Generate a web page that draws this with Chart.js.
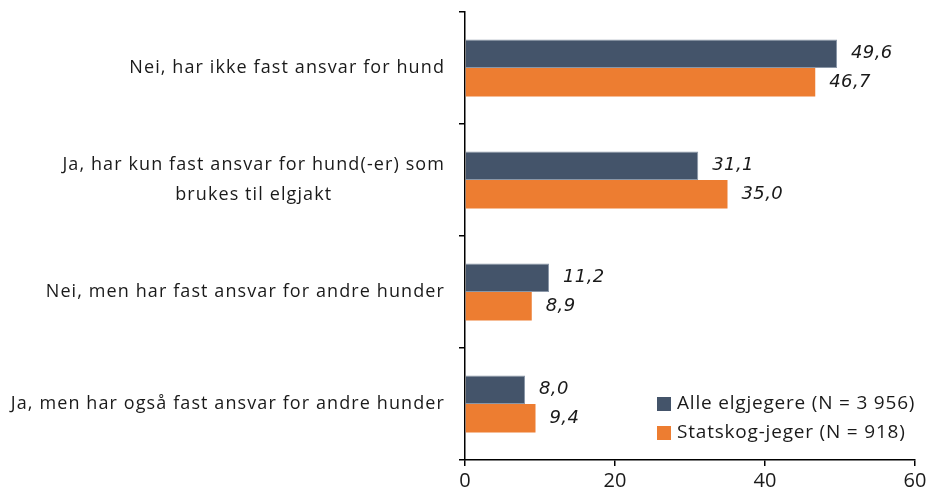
<!DOCTYPE html>
<html>
<head>
<meta charset="utf-8">
<script src="https://cdn.jsdelivr.net/npm/chart.js@4"></script>
<style>
  body { margin: 0; background: #fff; }
  #wrap { width: 932px; height: 499px; }
</style>
</head>
<body>
<div id="wrap"><canvas id="chart"></canvas></div>
<script>
// Data
const categories = [
  ["Nei, har ikke fast ansvar for hund"],
  ["Ja, har kun fast ansvar for hund(-er) som", "brukes til elgjakt"],
  ["Nei, men har fast ansvar for andre hunder"],
  ["Ja, men har også fast ansvar for andre hunder"],
];
const alleValues = [49.6, 31.1, 11.2, 8.0];
const statskogValues = [46.7, 35.0, 8.9, 9.4];
const seriesNames = ["Alle elgjegere (N = 3 956)", "Statskog-jeger (N = 918)"];
const xTicks = [0, 20, 40, 60];

const labelFont = "18px 'Open Sans', sans-serif";

// draws the category labels (right-aligned block, lines centred), value labels and legend
const extras = {
  id: "extras",
  afterDraw(chart) {
    const ctx = chart.ctx;
    const y = chart.scales.y;
    const area = chart.chartArea;
    ctx.save();
    ctx.fillStyle = "#1a1a1a";
    ctx.font = labelFont;
    ctx.letterSpacing = "1.1px";
    ctx.textBaseline = "middle";
    categories.forEach((lines, i) => {
      const cy = y.getPixelForValue(i);
      const widths = lines.map((l) => ctx.measureText(l).width);
      const maxW = Math.max(...widths);
      const cx = area.left - 20 - maxW / 2;
      const lh = 30;
      lines.forEach((l, j) => {
        ctx.textAlign = "center";
        ctx.fillText(l, cx, cy + (j - (lines.length - 1) / 2) * lh);
      });
    });

    ctx.letterSpacing = "0.4px";
    ctx.font = "italic 18px 'DejaVu Sans', sans-serif";
    ctx.textAlign = "left";
    chart.data.datasets.forEach((ds, di) => {
      const meta = chart.getDatasetMeta(di);
      meta.data.forEach((bar, i) => {
        const txt = ds.data[i].toFixed(1).replace(".", ",");
        ctx.fillText(txt, bar.x + 14, bar.y);
      });
    });

    ctx.letterSpacing = "0.8px";
    ctx.font = "19px 'Open Sans', sans-serif";
    chart.data.datasets.forEach((ds, di) => {
      const ly = 404 + di * 29;
      ctx.fillStyle = ds.backgroundColor;
      ctx.fillRect(657, ly - 7, 14, 14);
      ctx.fillStyle = "#1a1a1a";
      ctx.fillText(ds.label, 677, ly);
    });
    ctx.restore();
  },
};

new Chart(document.getElementById("chart"), {
  type: "bar",
  data: {
    labels: categories.map((c) => c.join(" ")),
    datasets: [
      {
        label: seriesNames[0],
        data: alleValues,
        backgroundColor: "#44546A",
        borderColor: "#8A97A8",
        borderWidth: 1,
        categoryPercentage: 0.51,
        barPercentage: 1,
      },
      {
        label: seriesNames[1],
        data: statskogValues,
        backgroundColor: "#ED7D31",
        borderWidth: 0,
        categoryPercentage: 0.51,
        barPercentage: 1,
      },
    ],
  },
  options: {
    indexAxis: "y",
    responsive: true,
    maintainAspectRatio: false,
    animation: false,
    layout: { padding: { top: 12, right: 17, left: 0, bottom: 0 } },
    plugins: { legend: { display: false }, tooltip: { enabled: false } },
    scales: {
      x: {
        min: 0,
        max: 60,
        afterBuildTicks: (s) => { s.ticks = xTicks.map((v) => ({ value: v })); },
        border: { display: true, color: "#000", width: 1.5 },
        grid: { drawOnChartArea: false, drawTicks: true, tickLength: 6, color: "#000", lineWidth: 1.5 },
        ticks: { color: "#1a1a1a", font: { size: 20, family: "'Open Sans', sans-serif" }, padding: 3 },
        afterFit: (s) => { s.height = 39; },
      },
      y: {
        offset: true,
        border: { display: true, color: "#000", width: 1.5 },
        grid: { offset: true, drawOnChartArea: false, drawTicks: true, tickLength: 6, color: "#000", lineWidth: 1.5 },
        ticks: { callback: () => "" },
        afterFit: (s) => { s.width = 465; },
      },
    },
  },
  plugins: [extras],
});
</script>
</body>
</html>
